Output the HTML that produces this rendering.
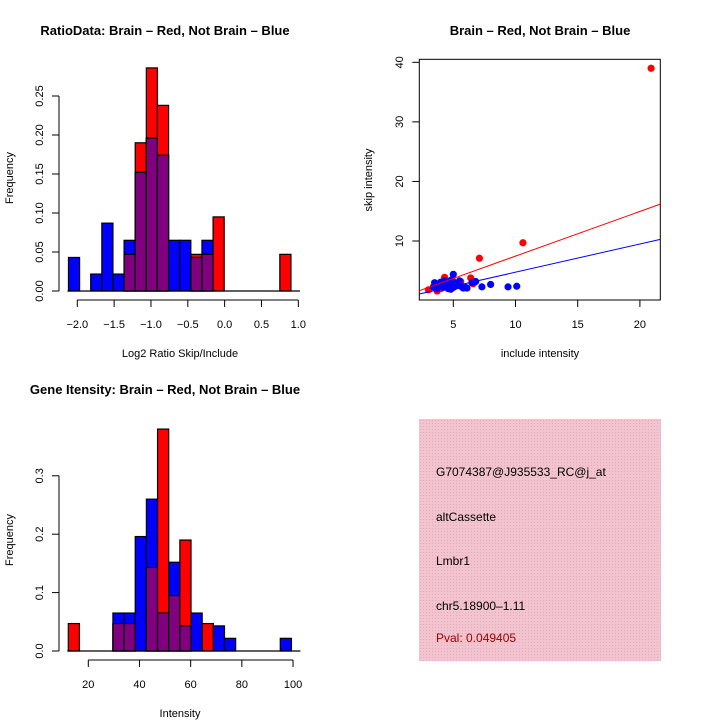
<!DOCTYPE html>
<html><head><meta charset="utf-8"><style>
body{margin:0;background:#fff}
svg{display:block;font-family:"Liberation Sans",sans-serif}
</style></head><body>
<svg id="c" width="720" height="720" viewBox="0 0 720 720">
<defs>
<pattern id="hatch" width="3" height="3" patternUnits="userSpaceOnUse"><rect width="3" height="3" fill="#f2c4cf"/><rect width="1" height="1" fill="#e8a8b8"/></pattern>
</defs>
<g>
<text x="165" y="35" text-anchor="middle" font-size="13" font-weight="bold">RatioData: Brain – Red, Not Brain – Blue</text>
<g id="h1"></g>
<text x="180" y="357" text-anchor="middle" font-size="11">Log2 Ratio Skip/Include</text>
<text transform="translate(13,178) rotate(-90)" text-anchor="middle" font-size="11">Frequency</text>
</g>
<g>
<text x="540" y="35" text-anchor="middle" font-size="13" font-weight="bold">Brain – Red, Not Brain – Blue</text>
<g id="sc"></g>
<text x="540" y="357" text-anchor="middle" font-size="11">include intensity</text>
<text transform="translate(372,180) rotate(-90)" text-anchor="middle" font-size="11">skip intensity</text>
</g>
<g>
<text x="165" y="394" text-anchor="middle" font-size="13" font-weight="bold">Gene Itensity: Brain – Red, Not Brain – Blue</text>
<g id="h2"></g>
<text x="180" y="717" text-anchor="middle" font-size="11">Intensity</text>
<text transform="translate(13,540) rotate(-90)" text-anchor="middle" font-size="11">Frequency</text>
</g>
<g>
<rect x="419" y="419" width="242" height="242" fill="url(#hatch)"/>
<text x="436" y="476" font-size="12">G7074387@J935533_RC@j_at</text>
<text x="436" y="521" font-size="12">altCassette</text>
<text x="436" y="565" font-size="12">Lmbr1</text>
<text x="436" y="610" font-size="12">chr5.18900–1.11</text>
<text x="436" y="642" font-size="12" fill="#a00000">Pval: 0.049405</text>
</g>
</svg>
<script>
// Ratio histogram data
const ratioStart = -2.12, ratioWidth = 0.151;
const ratioBlue = [0.043,0,0.0217,0.087,0.0217,0.065,0.152,0.196,0.174,0.065,0.065,0.043,0.065,0,0,0,0,0,0,0];
const ratioRed  = [0,0,0,0,0,0.047,0.19,0.286,0.238,0,0,0.047,0.047,0.095,0,0,0,0,0,0.047];
const ratioXTicks = [-2.0,-1.5,-1.0,-0.5,0.0,0.5,1.0];
const ratioXLabels = ["−2.0","−1.5","−1.0","−0.5","0.0","0.5","1.0"];
const ratioYTicks = [0,0.05,0.10,0.15,0.20,0.25];
const ratioYLabels = ["0.00","0.05","0.10","0.15","0.20","0.25"];
// Intensity histogram data
const intStart = 12.18, intWidth = 4.36;
const intBlue = [0,0,0,0,0.065,0.065,0.196,0.26,0.065,0.152,0.043,0.065,0,0.043,0.0217,0,0,0,0,0.0217];
const intRed  = [0.047,0,0,0,0.047,0.047,0,0.143,0.38,0.095,0.19,0,0.047,0,0,0,0,0,0,0];
const intXTicks = [20,40,60,80,100];
const intYTicks = [0,0.1,0.2,0.3];
const intYLabels = ["0.0","0.1","0.2","0.3"];
// Scatter data
const redX = [20.9,10.6,7.1,6.4,4.3,3.0,3.7,6.6,5.6,4.0,4.6,5.2,3.5,4.9];
const redY = [39,9.7,7.1,3.8,3.9,1.8,1.6,2.8,3.2,2.0,2.6,2.4,2.3,3.5];
const blueX = [3.4,3.5,3.7,3.9,4.0,4.2,4.3,4.4,4.5,4.6,4.7,4.8,4.9,5.0,5.0,5.1,5.2,5.3,5.5,5.6,5.8,6.0,6.1,6.5,6.8,7.3,8.0,9.4,10.1,3.6,4.1,4.8,5.4];
const blueY = [2.3,3.0,2.0,2.6,3.1,2.2,3.3,2.8,2.4,2.0,3.0,1.9,2.6,4.4,2.2,3.0,2.5,2.8,3.3,2.4,2.1,2.2,2.1,3.0,3.2,2.3,2.7,2.3,2.4,2.6,2.4,3.4,2.6];
const redFit = [-0.04,0.75];
const blueFit = [0.02,0.474];
const scXTicks = [5,10,15,20];
const scYTicks = [10,20,30,40];

const NS="http://www.w3.org/2000/svg";
function mk(p,t,a){const e=document.createElementNS(NS,t);for(const k in a)e.setAttribute(k,a[k]);p.appendChild(e);return e;}

function hist(g, start, w, blue, red, xs, ys, xticks, xlabels, yticks, ylabels, axisY, tickTop, labY){
  const baseY = ys(0);
  for(let i=0;i<blue.length;i++){
    const x0=xs(start+i*w), x1=xs(start+(i+1)*w);
    const b=blue[i], r=red[i];
    if(r>0){const e=mk(g,'rect',{x:x0,y:ys(r),width:x1-x0,height:baseY-ys(r),fill:'#ff0000',stroke:'#000','stroke-width':1.2});
      }
    if(b>0){const e=mk(g,'rect',{x:x0,y:ys(b),width:x1-x0,height:baseY-ys(b),fill:'#0000ff',stroke:'#000','stroke-width':1.2});
      }
    const m=Math.min(b,r);
    if(m>0){const e=mk(g,'rect',{x:x0,y:ys(m),width:x1-x0,height:baseY-ys(m),fill:'#800080',stroke:'#000','stroke-width':1.2});
      }
  }
  const bl=mk(g,'line',{x1:xs(start)-1,x2:xs(start+blue.length*w)+9,y1:baseY,y2:baseY,stroke:'#000','stroke-width':1.3});
  
  // x axis
  const xa=mk(g,'line',{x1:xs(xticks[0]),x2:xs(xticks[xticks.length-1]),y1:axisY,y2:axisY,stroke:'#000'});
  
  xticks.forEach((v,i)=>{mk(g,'line',{x1:xs(v),x2:xs(v),y1:axisY,y2:axisY+7,stroke:'#000'});
    const t=mk(g,'text',{x:xs(v),y:labY,'text-anchor':'middle','font-size':11});t.textContent=xlabels[i];
    });
  // y axis
  const ya=mk(g,'line',{x1:59,x2:59,y1:ys(yticks[0]),y2:ys(yticks[yticks.length-1]),stroke:'#000'});
  
  yticks.forEach((v,i)=>{mk(g,'line',{x1:52,x2:59,y1:ys(v),y2:ys(v),stroke:'#000'});
    const t=mk(g,'text',{transform:`translate(43,${ys(v)}) rotate(-90)`,'text-anchor':'middle','font-size':11});t.textContent=ylabels[i];
    });
}
// ratio
const rxs=v=>77.3+(v+2)*73.67, rys=v=>291-v*780;
hist(document.getElementById('h1'),ratioStart,ratioWidth,ratioBlue,ratioRed,rxs,rys,ratioXTicks,ratioXLabels,ratioYTicks,ratioYLabels,300,0,328);
// intensity
const ixs=v=>88.3+(v-20)*2.559, iys=v=>651-v*584;
hist(document.getElementById('h2'),intStart,intWidth,intBlue,intRed,ixs,iys,intXTicks,intXTicks.map(String),intYTicks,intYLabels,660,0,688);
// scatter
const sg=document.getElementById('sc');
const sx=v=>453.3+(v-5)*12.44, sy=v=>241-(v-10)*5.956;
const L=419.3,R=660.3,T=59.3,B=300;
const fr=mk(sg,'rect',{x:L,y:T,width:R-L,height:B-T,fill:'none',stroke:'#000'});

const clip=mk(sg,'clipPath',{id:'scClip'});mk(clip,'rect',{x:L,y:T,width:R-L,height:B-T});
const pg=mk(sg,'g',{'clip-path':'url(#scClip)'});
function fit(f,col,name){const x0=(L-453.3)/12.44+5,x1=(R-453.3)/12.44+5;
  const e=mk(pg,'line',{x1:sx(x0),y1:sy(f[0]+f[1]*x0),x2:sx(x1),y2:sy(f[0]+f[1]*x1),stroke:col});
  }
redX.forEach((v,i)=>{const e=mk(pg,'circle',{cx:sx(v),cy:sy(redY[i]),r:3.6,fill:'#ff0000'});
  });
blueX.forEach((v,i)=>{const e=mk(pg,'circle',{cx:sx(v),cy:sy(blueY[i]),r:3.6,fill:'#0000ff'});
  });
fit(redFit,'#ff0000','red-fit-line');fit(blueFit,'#0000ff','blue-fit-line');
scXTicks.forEach(v=>{mk(sg,'line',{x1:sx(v),x2:sx(v),y1:B,y2:B+7,stroke:'#000'});
  const t=mk(sg,'text',{x:sx(v),y:328,'text-anchor':'middle','font-size':11});t.textContent=v;
  });
scYTicks.forEach(v=>{mk(sg,'line',{x1:L-7,x2:L,y1:sy(v),y2:sy(v),stroke:'#000'});
  const t=mk(sg,'text',{transform:`translate(403,${sy(v)}) rotate(-90)`,'text-anchor':'middle','font-size':11});t.textContent=v;
  });
</script>
</body></html>
